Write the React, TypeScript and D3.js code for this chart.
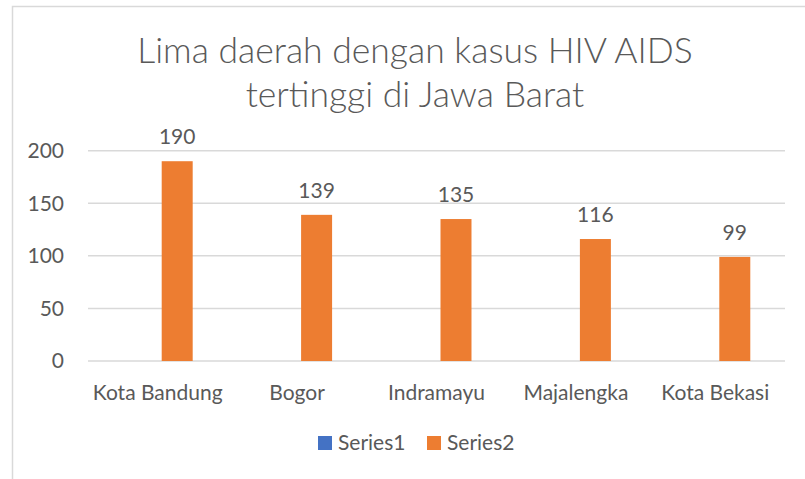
import React from 'react';
import * as d3 from 'd3';

const categories = ['Kota Bandung', 'Bogor', 'Indramayu', 'Majalengka', 'Kota Bekasi'];
const series1 = [0, 0, 0, 0, 0];
const series2 = [190, 139, 135, 116, 99];
const seriesNames = ['Series1', 'Series2'];
const seriesColors = ['#4472C4', '#ED7D31'];
const yTicks = [0, 50, 100, 150, 200];
const titleLines = ['Lima daerah dengan kasus HIV AIDS', 'tertinggi di Jawa Barat'];

const W = 805;
const H = 479;
const font = 'Lato, Carlito, Calibri, sans-serif';
const textColor = '#595959';

export default function App() {
  const left = 88;
  const right = 785;
  const top = 150.7;
  const bottom = 361;

  const x = d3.scaleBand<string>().domain(categories).range([left, right]).paddingInner(0.498).paddingOuter(0.249);
  const inner = d3.scaleBand<string>().domain(seriesNames).range([0, x.bandwidth()]).paddingInner(0.205);
  const y = d3.scaleLinear().domain([0, 200]).range([bottom, top]);

  const data = [series1, series2];

  return (
    <svg width={W} height={H} style={{ position: 'absolute', left: 0, top: 0 }}>
      <rect x={0} y={0} width={W} height={H} fill="#fff" />
      {/* chart frame, cropped on the right and bottom */}
      <rect x={12.5} y={6.5} width={W + 20} height={H + 20} fill="none" stroke="#D9D9D9" strokeWidth={1.5} />

      {titleLines.map((t, i) => (
        <text key={t} x={415} y={63 + i * 44} textAnchor="middle" fontFamily={font} fontWeight={300}
          fontSize={35.5} fill={textColor}>{t}</text>
      ))}

      {yTicks.map(t => (
        <g key={t}>
          <line x1={left} x2={right} y1={y(t)} y2={y(t)} stroke="#D9D9D9" strokeWidth={1.5} />
          <text x={64} y={y(t)} dy="0.35em" textAnchor="end" fontFamily={font} fontSize={21} fill={textColor}>{t}</text>
        </g>
      ))}

      {data.map((vals, si) =>
        vals.map((v, ci) => {
          const bx = (x(categories[ci]) as number) + (inner(seriesNames[si]) as number);
          return (
            <g key={si + '-' + ci}>
              <rect x={bx} y={y(v)} width={inner.bandwidth()} height={y(0) - y(v)} fill={seriesColors[si]} />
              {si === 1 && (
                <text x={bx + inner.bandwidth() / 2} y={y(v) - 17} textAnchor="middle" fontFamily={font}
                  fontSize={21} fill={textColor}>{v}</text>
              )}
            </g>
          );
        })
      )}

      {categories.map(c => (
        <text key={c} x={(x(c) as number) + x.bandwidth() / 2} y={400} textAnchor="middle" fontFamily={font}
          fontSize={21} fill={textColor}>{c}</text>
      ))}

      {seriesNames.map((s, i) => {
        const lx = 318 + i * 109;
        return (
          <g key={s}>
            <rect x={lx} y={436} width={14} height={14} fill={seriesColors[i]} />
            <text x={lx + 20} y={450} fontFamily={font} fontSize={21} fill={textColor}>{s}</text>
          </g>
        );
      })}
    </svg>
  );
}
